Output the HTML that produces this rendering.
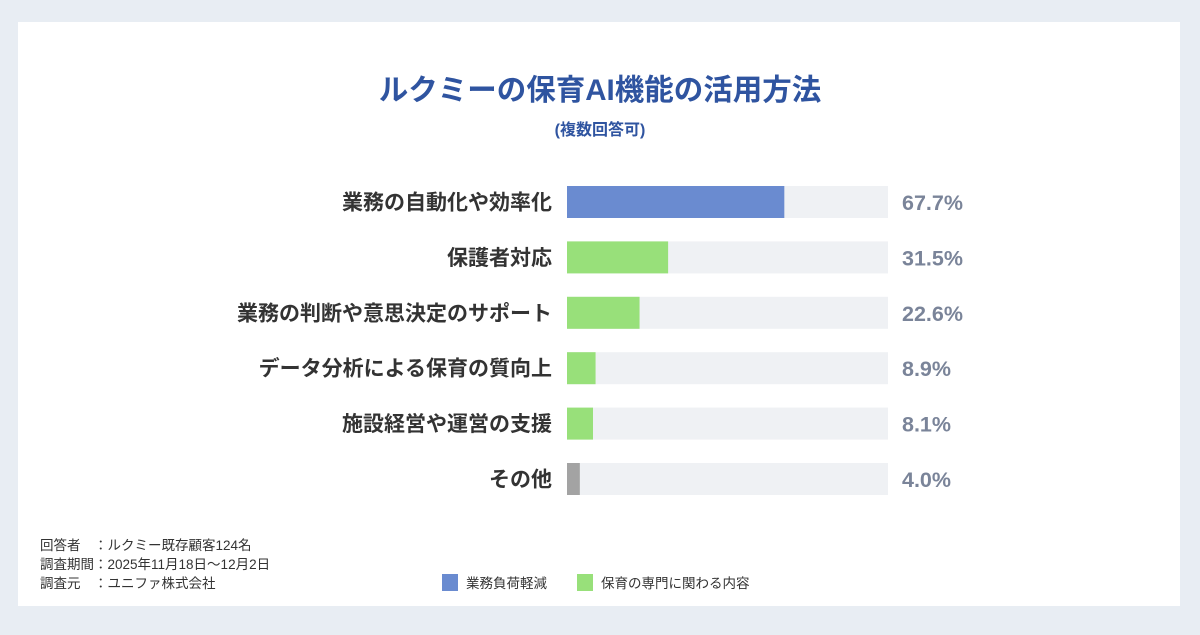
<!DOCTYPE html>
<html><head><meta charset="utf-8"><style>
body{margin:0;width:1200px;height:630px;background:#e8edf3;font-family:"Liberation Sans","Noto Sans CJK JP",sans-serif;overflow:hidden}
</style></head><body>
<svg width="1200" height="630" xmlns="http://www.w3.org/2000/svg">
<rect x="18" y="22" width="1162" height="584" fill="#fff"/>
<text x="600" y="100" text-anchor="middle" font-size="29.5" font-weight="bold" fill="#2f54a0" font-family="Liberation Sans, Noto Sans CJK JP, sans-serif">ルクミーの保育AI機能の活用方法</text>
<text x="600" y="135" text-anchor="middle" font-size="16" font-weight="bold" fill="#2f54a0" font-family="Liberation Sans, Noto Sans CJK JP, sans-serif">(複数回答可)</text>
<g id="bars"></g>
<g font-family="Liberation Sans, Noto Sans CJK JP, sans-serif" font-size="13.5" fill="#333">
<text x="40" y="550">回答者　：ルクミー既存顧客124名</text>
<text x="40" y="569">調査期間：2025年11月18日〜12月2日</text>
<text x="40" y="588">調査元　：ユニファ株式会社</text>
</g>
<rect x="442" y="574" width="16" height="17" fill="#6a8bd0"/>
<text x="466" y="588" font-size="13.5" fill="#333" font-family="Liberation Sans, Noto Sans CJK JP, sans-serif">業務負荷軽減</text>
<rect x="577" y="574" width="16" height="17" fill="#98e07a"/>
<text x="601" y="588" font-size="13.5" fill="#333" font-family="Liberation Sans, Noto Sans CJK JP, sans-serif">保育の専門に関わる内容</text>
</svg>
<script>
const categories=["業務の自動化や効率化","保護者対応","業務の判断や意思決定のサポート","データ分析による保育の質向上","施設経営や運営の支援","その他"];
const values=[67.7,31.5,22.6,8.9,8.1,4.0];
const valueLabels=["67.7%","31.5%","22.6%","8.9%","8.1%","4.0%"];
const groups=["work","pro","pro","pro","pro","other"];
const colors={work:"#6a8bd0",pro:"#98e07a",other:"#a3a3a3"};
const NS="http://www.w3.org/2000/svg";
const x0=567,W=321,y0=186,step=55.4,h=32;
const xs=v=>v/100*W;
const g=document.getElementById('bars');
function mk(t,a){const e=document.createElementNS(NS,t);for(const k in a)e.setAttribute(k,a[k]);g.appendChild(e);return e;}
categories.forEach((c,i)=>{
 const y=y0+i*step;
 const tr=mk('rect',{x:x0,y:y,width:W,height:h,fill:'#eff1f4'});
 
 
 const b=mk('rect',{x:x0,y:y,width:xs(values[i]),height:h,fill:colors[groups[i]]});
 
 
 const l=mk('text',{x:552,y:y+h/2+7.5,'text-anchor':'end','font-size':21,'font-weight':'bold',fill:'#333','font-family':'Liberation Sans, Noto Sans CJK JP, sans-serif'});
 l.textContent=c;
 
 
 const v=mk('text',{x:902,y:y+h/2+8,'font-size':21.5,'font-weight':'bold',fill:'#7a8499','font-family':'Liberation Sans, Noto Sans CJK JP, sans-serif'});
 v.textContent=valueLabels[i];
 
 
});
</script>
</body></html>
